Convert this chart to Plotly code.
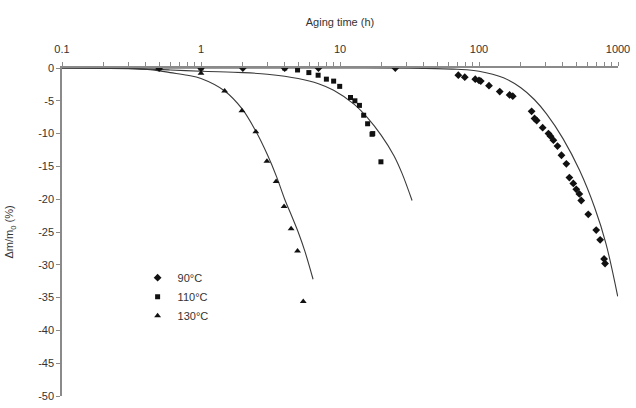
import plotly.graph_objects as go

# ---- data ----
t90 = [0.5, 1, 2, 4, 7, 25, 71, 79, 94, 100, 103, 118, 141, 166, 175, 239, 251, 260,
       287, 316, 327, 343, 367, 392, 425, 447, 477, 501, 527, 544, 611, 697, 744, 794, 807]
m90 = [0, 0, 0, 0, 0, 0, -1.1, -1.4, -1.7, -1.9, -2.0, -2.7, -3.6, -4.1, -4.3, -6.6, -7.7, -8.0,
       -9.1, -10.0, -10.4, -11.0, -11.9, -13.3, -14.6, -16.7, -17.6, -18.5, -19.2, -20.2, -22.3,
       -24.7, -26.2, -29.1, -29.8]

t110 = [0.5, 1, 4, 4.95, 5.97, 6.96, 7.98, 9.0, 9.95, 11.9, 12.8, 13.8, 14.8, 15.8, 17.2, 17.0, 19.7]
m110 = [0, 0, 0, -0.3, -0.7, -1.1, -1.7, -2.0, -2.8, -4.5, -5.0, -5.7, -7.2, -8.5, -10.0, -10.1, -14.3]

t130 = [0.5, 1, 1.48, 1.97, 2.48, 2.98, 3.47, 3.96, 4.45, 4.95, 5.44]
m130 = [0, -0.8, -3.5, -6.5, -9.7, -14.2, -17.3, -21.1, -24.5, -27.9, -35.6]

# model curves
c90_t = [0.1, 10, 40, 70, 100, 150, 200, 250, 306, 403, 529, 680, 820, 995]
c90_m = [0, 0, -0.05, -0.2, -0.5, -1.5, -3.0, -4.8, -7.0, -10.8, -15.6, -21.3, -26.8, -34.8]

c110_t = [0.1, 0.3, 0.6, 1, 2, 3, 5, 7, 9, 12.6, 15.8, 19.7, 24.5, 28, 33]
c110_m = [0, -0.1, -0.3, -0.5, -0.7, -0.95, -1.6, -2.4, -3.4, -5.5, -7.6, -10.2, -13.4, -16.1, -20.2]

c130_t = [0.1, 0.3, 0.45, 0.6, 0.8, 1, 1.48, 1.97, 2.46, 3.0, 3.5, 4.0, 4.5, 5.0, 5.6, 6.4]
c130_m = [0, -0.05, -0.3, -0.7, -1.1, -1.6, -3.5, -6.2, -9.5, -13.2, -16.6, -20.0, -22.6, -25.0, -28.0, -32.2]

series_names = ["90°C", "110°C", "130°C"]
x_tickvals = [0.1, 1, 10, 100, 1000]
x_ticktext = ["0.1", "1", "10", "100", "1000"]
y_tickvals = list(range(0, -55, -5))
y_ticktext = [str(v) for v in y_tickvals]

minor_vals = [m * 10 ** e for e in range(-1, 3) for m in range(2, 10)]

FONT = "Liberation Sans, Arial, sans-serif"
fig = go.Figure()

for ct, cm in [(c90_t, c90_m), (c110_t, c110_m), (c130_t, c130_m)]:
    fig.add_trace(go.Scatter(x=ct, y=cm, mode="lines", line=dict(color="#3a3a3a", width=1.1, shape="spline"),
                             showlegend=False, hoverinfo="skip"))

for name, tx, my, sym, sz in [(series_names[0], t90, m90, "diamond", 6),
                              (series_names[1], t110, m110, "square", 5),
                              (series_names[2], t130, m130, "triangle-up", 6)]:
    fig.add_trace(go.Scatter(x=tx, y=my, mode="markers", name=name,
                             marker=dict(symbol=sym, size=sz, color="#111111")))

fig.update_layout(
    width=636, height=408,
    margin=dict(l=62, r=14, t=68, b=6),
    paper_bgcolor="white", plot_bgcolor="white",
    font=dict(family=FONT, size=11, color="#333333"),
    legend=dict(x=0.136, y=0.405, xanchor="left", yanchor="top", bgcolor="rgba(0,0,0,0)",
                font=dict(size=11, color="#333333"), itemwidth=30, tracegroupgap=0),
    xaxis=dict(type="log", range=[-1, 3], side="top", showgrid=False, zeroline=False,
               showline=True, linecolor="#8a8a8a", linewidth=1.5,
               tickmode="array", tickvals=x_tickvals, ticktext=x_ticktext,
               ticks="outside", ticklen=4, tickcolor="#8a8a8a", ticklabelstandoff=5,
               minor=dict(tickvals=minor_vals, ticks="outside", ticklen=4, tickcolor="#8a8a8a", showgrid=False),
               title=dict(text="Aging time (h)", standoff=14, font=dict(size=11)),
               tickfont=dict(size=11)),
    yaxis=dict(range=[-50, 0], showgrid=False, zeroline=False,
               showline=True, linecolor="#8a8a8a", linewidth=1.5,
               tickmode="array", tickvals=y_tickvals, ticktext=y_ticktext,
               ticks="outside", ticklen=4, tickcolor="#8a8a8a",
               title=dict(text="Δm/m<sub>0</sub> (%)", standoff=22, font=dict(size=11)),
               tickfont=dict(size=11)),
)

fig.write_html("out.html")
